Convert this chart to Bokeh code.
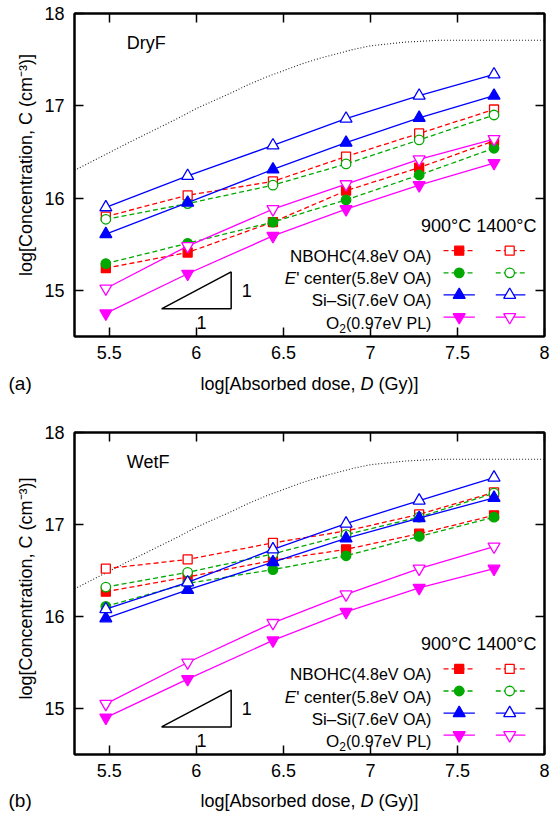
import math
from bokeh.plotting import figure
from bokeh.models import Range1d, FixedTicker, LinearAxis, Label
from bokeh.layouts import column, row
from bokeh.embed import file_html
from bokeh.resources import INLINE

FONT = "Liberation Sans"

# ---------------- data ----------------
x_dose = [5.48, 5.95, 6.44, 6.86, 7.28, 7.71]
x_ticks = [5.5, 6, 6.5, 7, 7.5, 8]
y_ticks = [15, 16, 17, 18]

# DryF panel (a)
nbohc900_dry = [15.24, 15.41, 15.74, 16.08, 16.33, 16.62]
nbohc1400_dry = [15.80, 16.03, 16.18, 16.45, 16.70, 16.96]
ep900_dry = [15.29, 15.51, 15.74, 15.98, 16.25, 16.54]
ep1400_dry = [15.77, 15.94, 16.14, 16.37, 16.63, 16.90]
sisi900_dry = [15.61, 15.95, 16.31, 16.60, 16.87, 17.11]
sisi1400_dry = [15.90, 16.24, 16.57, 16.86, 17.11, 17.34]
o2900_dry = [14.75, 15.18, 15.59, 15.88, 16.14, 16.38]
o21400_dry = [15.02, 15.48, 15.88, 16.15, 16.42, 16.64]

# WetF panel (b)
nbohc900_wet = [16.27, 16.43, 16.61, 16.73, 16.90, 17.10]
nbohc1400_wet = [16.52, 16.62, 16.80, 16.93, 17.11, 17.35]
ep900_wet = [16.11, 16.36, 16.51, 16.66, 16.87, 17.08]
ep1400_wet = [16.32, 16.48, 16.68, 16.89, 17.08, 17.34]
sisi900_wet = [15.98, 16.29, 16.59, 16.85, 17.07, 17.29]
sisi1400_wet = [16.08, 16.37, 16.73, 17.01, 17.26, 17.51]
o2900_wet = [14.90, 15.32, 15.74, 16.05, 16.31, 16.52]
o21400_wet = [15.05, 15.50, 15.93, 16.24, 16.52, 16.76]

# dotted saturation curve (same in both panels)
sat_x = [5.3, 5.6, 5.9, 6.0, 6.2, 6.3, 6.4, 6.5, 6.6, 6.7, 6.8, 6.9, 7.0, 7.1, 7.2, 7.3, 7.4, 7.6, 8.0]
sat_y = [16.30, 16.59, 16.87, 16.97, 17.14, 17.23, 17.31, 17.38, 17.45, 17.51, 17.56, 17.61,
         17.65, 17.67, 17.69, 17.70, 17.71, 17.71, 17.71]

# slope-1 guide triangle
tri_x = [5.8, 6.2, 6.2, 5.8]
tri_y = [14.8, 14.8, 15.2, 14.8]

# ---------------- styles ----------------
colors = ["#ff0000", "#00a800", "#0000ff", "#ff00ff"]
markers = ["square", "circle", "triangle", "inverted_triangle"]
dashes = ["5 3", "5 3", "solid", "solid"]
msizes = [9, 9.5, 12, 12]

# legend layout (data coords)
LEG_LABEL_X = 7.35
LEG900 = (7.42, 7.51, 7.60)
LEG1400 = (7.72, 7.80, 7.89)
LEG_ROWS = [15.43, 15.19, 14.95, 14.71]
LEG_HEAD = (7.954, 15.70)

YLAB_W = 40


def lab(p, x, y, text, size, xo=0, yo=0, align="left", baseline="middle",
        style="normal", angle=0.0):
    p.add_layout(Label(x=x, y=y, text=text, x_offset=xo, y_offset=yo,
                       text_font=FONT, text_font_size=f"{size}px",
                       text_align=align, text_baseline=baseline,
                       text_font_style=style, angle=angle, text_color="black"))


def canvas(w, h):
    c = figure(width=w, height=h, x_range=Range1d(0, w), y_range=Range1d(h, 0),
               output_backend="svg", toolbar_location=None,
               x_axis_location=None, y_axis_location=None, min_border=0)
    c.outline_line_color = None
    c.grid.visible = False
    return c


def make_panel(name, s900, s1400, height, btop, bbottom):
    p = figure(width=550 - YLAB_W, height=height, x_range=Range1d(5.3, 8.0),
               y_range=Range1d(14.5, 18.0), output_backend="svg",
               toolbar_location=None, min_border_left=74 - YLAB_W, min_border_right=6,
               min_border_top=btop, min_border_bottom=bbottom)
    p.grid.visible = False
    p.outline_line_color = "black"
    p.outline_line_width = 2

    overrides = {5.5: "5.5", 6: "6", 6.5: "6.5", 7: "7", 7.5: "7.5", 8: "8"}
    for ax, ticks in ((p.xaxis[0], x_ticks), (p.yaxis[0], y_ticks)):
        ax.ticker = FixedTicker(ticks=ticks)
        ax.major_tick_in = 9
        ax.major_tick_out = 0
        ax.minor_tick_in = 0
        ax.minor_tick_out = 0
        ax.axis_line_width = 2
        ax.major_tick_line_width = 1.5
        ax.major_label_text_font = FONT
        ax.major_label_text_font_size = "18px"
        ax.major_label_text_color = "black"
    p.xaxis[0].major_label_overrides = overrides
    p.xaxis[0].major_label_standoff = 9
    p.yaxis[0].major_label_standoff = 10

    for side, ticks in (("above", x_ticks), ("right", y_ticks)):
        ax = LinearAxis(ticker=FixedTicker(ticks=ticks), major_tick_in=9,
                        major_tick_out=0, minor_tick_in=0, minor_tick_out=0,
                        axis_line_width=2, major_tick_line_width=1.5,
                        major_label_text_font_size="1px", major_label_text_color=None,
                        major_label_standoff=0)
        p.add_layout(ax, side)

    # saturation curve
    p.line(sat_x, sat_y, line_color="#222222", line_width=1.1, line_dash="1 2")

    # data series
    for i in range(4):
        for ser, filled in ((s900[i], True), (s1400[i], False)):
            p.line(x_dose, ser, line_color=colors[i], line_width=1.3,
                   line_dash=dashes[i])
            p.scatter(x_dose, ser, marker=markers[i], size=msizes[i],
                      line_color=colors[i], line_width=1.3,
                      fill_color=colors[i] if filled else "white")

    # slope triangle
    p.line(tri_x, tri_y, line_color="black", line_width=1.5)
    lab(p, 6.29, 15.0, "1", 18, align="center")
    lab(p, 6.03, 14.65, "1", 18, align="center")

    # panel name
    lab(p, 5.6, 17.68, name, 18)

    # legend
    lab(p, LEG_HEAD[0], LEG_HEAD[1], "900°C 1400°C", 18, align="right")
    for i, yy in enumerate(LEG_ROWS):
        for (xa, xm, xb), filled in ((LEG900, True), (LEG1400, False)):
            p.line([xa, xb], [yy, yy], line_color=colors[i], line_width=1.3,
                   line_dash=dashes[i])
            p.scatter([xm], [yy], marker=markers[i], size=msizes[i],
                      line_color=colors[i], line_width=1.3,
                      fill_color=colors[i] if filled else "white")
    by = -6
    ws, wp = 80.0, 85.4
    lab(p, LEG_LABEL_X, LEG_ROWS[0], "(4.8eV OA)", 16, yo=by, align="right", baseline="alphabetic")
    lab(p, LEG_LABEL_X, LEG_ROWS[0], "NBOHC", 17, xo=-ws, yo=by, align="right", baseline="alphabetic")
    lab(p, LEG_LABEL_X, LEG_ROWS[1], "(5.8eV OA)", 16, yo=by, align="right", baseline="alphabetic")
    lab(p, LEG_LABEL_X, LEG_ROWS[1], "' center", 17, xo=-ws, yo=by, align="right", baseline="alphabetic")
    lab(p, LEG_LABEL_X, LEG_ROWS[1], "E", 17, xo=-ws - 55.2, yo=by, align="right",
        baseline="alphabetic", style="italic")
    lab(p, LEG_LABEL_X, LEG_ROWS[2], "(7.6eV OA)", 16, yo=by, align="right", baseline="alphabetic")
    lab(p, LEG_LABEL_X, LEG_ROWS[2], "Si–Si", 17, xo=-ws, yo=by, align="right", baseline="alphabetic")
    lab(p, LEG_LABEL_X, LEG_ROWS[3], "(0.97eV PL)", 16, yo=by, align="right", baseline="alphabetic")
    lab(p, LEG_LABEL_X, LEG_ROWS[3], "2", 12, xo=-wp, yo=by - 5, align="right", baseline="alphabetic")
    lab(p, LEG_LABEL_X, LEG_ROWS[3], "O", 17, xo=-wp - 6.7, yo=by, align="right", baseline="alphabetic")
    return p


def ylabel_canvas(h, y_center):
    c = canvas(YLAB_W, h)
    lab(c, 25, y_center, "log[Concentration, C (cm⁻³)]", 18, align="center",
        angle=math.pi / 2)
    return c


def xlabel_canvas(h, y_mid, tag):
    c = canvas(550, h)
    x = 309.0 - 109.0
    for t, w, st in (("log[Absorbed dose,", 155.1 + 5.0, "normal"),
                     ("D", 13.0 + 5.0, "italic"),
                     ("(Gy)]", 40.0, "normal")):
        lab(c, x, y_mid, t, 18, style=st)
        x += w
    lab(c, 8, y_mid, tag, 19)
    return c


pa = make_panel("DryF",
                [nbohc900_dry, ep900_dry, sisi900_dry, o2900_dry],
                [nbohc1400_dry, ep1400_dry, sisi1400_dry, o21400_dry],
                372, 13, 36)
pb = make_panel("WetF",
                [nbohc900_wet, ep900_wet, sisi900_wet, o2900_wet],
                [nbohc1400_wet, ep1400_wet, sisi1400_wet, o21400_wet],
                382, 24, 36)

ya = ylabel_canvas(372, 174.5)
yb = ylabel_canvas(382, 185.0)
xa = xlabel_canvas(36, 11, "(a)")
xb = xlabel_canvas(24, 10, "(b)")

layout = column(row(ya, pa, spacing=0), xa, row(yb, pb, spacing=0), xb, spacing=0)
open("out.html", "w").write(file_html(layout, INLINE))
